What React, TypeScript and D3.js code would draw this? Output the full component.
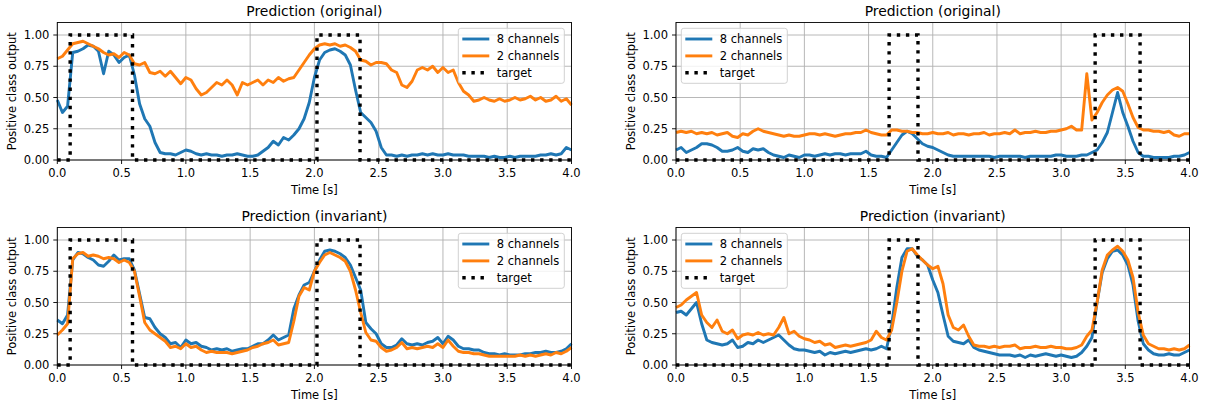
import React from "react";
import * as d3 from "d3";

// sampling interval of the prediction series (seconds); values are in percent
const STEP = 0.04;

// Top-left: Prediction (original)
const p1Blue = [48,38,43,86,87,89,92,91,87,69, 87,84,78,82,84,68,45,33,27,14, 6,5,5,4,6,8,7,5,4,5, 4,4,3,4,4,5,4,3,3,4, 7,10,15,12,18,16,20,25,33,46, 66,80,86,88,89,87,84,76,56,38, 34,30,23,10,4,4,3,4,3,4, 4,5,4,5,4,4,5,4,4,4, 3,3,3,3,2,3,2,2,3,2, 3,3,3,3,4,4,5,4,5,10, 8];
const p1Orange = [81,83,88,93,94,95,93,91,89,86, 84,85,82,86,84,77,76,78,70,69, 71,67,71,66,61,66,64,57,52,54, 58,62,60,64,60,52,62,60,62,64, 60,64,62,66,63,65,66,72,78,84, 89,92,93,92,93,91,92,90,87,80, 79,76,78,78,77,72,70,60,58,63, 72,74,72,75,70,74,70,72,62,55, 52,47,48,50,48,47,49,47,48,50, 48,49,51,48,50,47,48,51,47,49, 44];

// Top-right: Prediction (original)
const p2Blue = [8,10,6,8,10,13,13,12,10,7, 7,8,10,7,6,9,8,9,6,4, 3,2,4,3,2,4,4,3,4,5, 4,5,5,4,5,5,5,7,4,3, 3,2,8,14,20,23,21,17,13,11, 10,8,6,4,3,3,3,3,3,3, 3,3,2,3,3,3,3,3,2,3, 3,3,3,3,4,4,3,3,3,4, 4,6,8,14,22,38,54,38,27,15, 6,3,3,2,2,2,2,3,3,4, 6];
const p2Orange = [22,23,22,23,21,22,21,22,20,21, 22,19,18,21,20,23,25,23,22,21, 20,19,20,19,19,20,21,21,20,21, 20,19,20,21,21,22,22,24,22,21, 20,20,24,24,23,23,22,22,21,21, 22,21,21,22,20,21,21,20,21,21, 22,20,21,21,22,21,24,21,22,22, 23,22,22,23,23,24,25,27,24,24, 69,32,38,46,52,56,58,55,45,34, 26,24,24,23,23,22,23,20,19,21, 21];

// Bottom-left: Prediction (invariant)
const p3Blue = [36,33,40,84,90,89,86,84,80,79, 83,88,84,85,85,76,57,38,37,30, 25,22,17,18,14,20,17,18,15,14, 12,13,12,13,11,12,13,13,15,17, 17,20,24,20,22,24,45,56,64,66, 75,84,91,92,91,89,86,80,70,60, 34,29,25,17,14,14,16,21,17,16, 17,16,18,19,22,17,23,20,15,13, 13,12,12,10,9,9,8,9,8,8, 8,9,9,10,10,11,10,10,11,13, 17];
const p3Orange = [24,28,33,85,89,90,87,88,87,85, 86,85,82,84,82,75,55,34,28,25, 22,19,14,15,13,17,14,15,12,10, 11,10,10,10,9,10,11,12,14,15, 17,18,20,16,17,18,35,55,62,60, 75,82,88,90,88,86,83,75,60,42, 26,20,19,14,11,12,14,18,13,14, 13,14,15,14,17,14,20,15,11,10, 10,9,9,8,7,7,7,7,7,7, 8,7,8,7,8,9,8,10,9,11, 14];

// Bottom-right: Prediction (invariant)
const p4Blue = [42,43,40,45,50,33,20,18,17,16, 17,20,14,15,18,17,20,18,20,22, 24,20,16,13,12,12,11,10,11,8, 10,9,10,11,10,11,12,13,12,13, 15,13,32,62,86,93,93,87,84,80, 68,58,40,23,19,18,17,20,14,12, 11,10,9,8,8,8,7,8,6,8, 7,8,9,8,7,8,7,6,7,10, 15,22,50,74,85,91,92,88,80,64, 35,17,12,9,8,8,9,8,8,10, 12];
const p4Orange = [46,48,52,55,58,40,34,30,36,27, 25,28,21,24,25,24,26,24,25,24, 30,38,25,27,23,21,20,18,19,16, 17,14,15,16,15,16,17,18,20,27, 22,20,28,50,75,91,93,88,84,80, 77,79,65,40,30,28,32,23,16,15, 15,14,15,14,15,15,16,13,14,14, 15,14,14,15,14,14,13,13,14,16, 23,28,50,76,88,92,95,91,84,70, 42,24,17,15,13,13,12,13,12,13, 16];

// target windows (seconds)
const targetLeftOn = [0.1, 2.02];
const targetLeftOff = [0.585, 2.355];
const targetRightOn = [1.66, 3.265];
const targetRightOff = [1.885, 3.615];

const xTicks = [0, 0.5, 1, 1.5, 2, 2.5, 3, 3.5, 4];
const yTicks = [0, 0.25, 0.5, 0.75, 1];
const seriesNames = ["8 channels", "2 channels", "target"];
const titles = ["Prediction (original)", "Prediction (invariant)"];

const BLUE = "#1f77b4";
const ORANGE = "#ff7f0e";
const FONT = "'DejaVu Sans', sans-serif";
const FS = 11.5;

function targetPoints(on: number[], off: number[]): [number, number][] {
  const pts: [number, number][] = [[0, 0]];
  on.forEach((s, k) => {
    pts.push([s, 0], [s, 1], [off[k], 1], [off[k], 0]);
  });
  pts.push([4, 0]);
  return pts;
}

type PanelProps = {
  left: number; right: number; top: number; bottom: number;
  title: string; blue: number[]; orange: number[];
  on: number[]; off: number[]; legendRight: boolean;
};

function Panel({ left, right, top, bottom, title, blue, orange, on, off, legendRight }: PanelProps) {
  const x = d3.scaleLinear().domain([0, 4]).range([left, right]);
  const y = d3.scaleLinear().domain([0, 1.1]).range([bottom, top]);
  const line = d3.line<number>().x((_, i) => x(i * STEP)).y((d) => y(d / 100));
  const tline = d3.line<[number, number]>().x((d) => x(d[0])).y((d) => y(d[1]));
  const tpts = targetPoints(on, off);

  const lw = 106, lh = 55;
  const lx = legendRight ? right - 7.2 - lw : left + 5.3;
  const ly = top + 5.8;
  const rows = [10.7, 27.6, 44.4];
  const grid = "#b0b0b0";

  return (
    <g>
      {/* grid */}
      {xTicks.map((t) => (
        <line key={"gx" + t} x1={x(t)} x2={x(t)} y1={top} y2={bottom} stroke={grid} strokeWidth={0.9} />
      ))}
      {yTicks.map((t) => (
        <line key={"gy" + t} x1={left} x2={right} y1={y(t)} y2={y(t)} stroke={grid} strokeWidth={0.9} />
      ))}
      {/* series */}
      <path d={line(blue) || ""} fill="none" stroke={BLUE} strokeWidth={2.9} strokeLinejoin="round" />
      <path d={line(orange) || ""} fill="none" stroke={ORANGE} strokeWidth={2.9} strokeLinejoin="round" />
      <path d={tline(tpts) || ""} fill="none" stroke="#000" strokeWidth={3.4} strokeDasharray="3.4,5.7" />
      {/* spines */}
      <rect x={left} y={top} width={right - left} height={bottom - top} fill="none" stroke="#000" strokeWidth={0.9} />
      {/* x ticks */}
      {xTicks.map((t) => (
        <g key={"xt" + t}>
          <line x1={x(t)} x2={x(t)} y1={bottom} y2={bottom + 4} stroke="#000" strokeWidth={0.9} />
          <text x={x(t)} y={bottom + 17} textAnchor="middle" fontSize={FS} fontFamily={FONT}>{t.toFixed(1)}</text>
        </g>
      ))}
      {yTicks.map((t) => (
        <g key={"yt" + t}>
          <line x1={left - 4} x2={left} y1={y(t)} y2={y(t)} stroke="#000" strokeWidth={0.9} />
          <text x={left - 8} y={y(t)} dy="0.36em" textAnchor="end" fontSize={FS} fontFamily={FONT}>{t.toFixed(2)}</text>
        </g>
      ))}
      <text x={(left + right) / 2} y={bottom + 33.5} textAnchor="middle" fontSize={FS} fontFamily={FONT}>Time [s]</text>
      <text transform={`translate(${left - 41},${(top + bottom) / 2}) rotate(-90)`} textAnchor="middle" fontSize={FS} fontFamily={FONT}>Positive class output</text>
      <text x={(left + right) / 2} y={top - 6.5} textAnchor="middle" fontSize={13.9} fontFamily={FONT}>{title}</text>
      {/* legend */}
      <rect x={lx} y={ly} width={lw} height={lh} rx={2.5} fill="#fff" fillOpacity={0.8} stroke="#cccccc" strokeWidth={0.9} />
      {seriesNames.map((name, k) => (
        <g key={name}>
          <line x1={lx + 4} x2={lx + 31} y1={ly + rows[k]} y2={ly + rows[k]}
            stroke={k === 0 ? BLUE : k === 1 ? ORANGE : "#000"}
            strokeWidth={k === 2 ? 3.4 : 2.9}
            strokeDasharray={k === 2 ? "3.4,5.7" : undefined} />
          <text x={lx + 38.5} y={ly + rows[k]} dy="0.36em" fontSize={FS} fontFamily={FONT}>{name}</text>
        </g>
      ))}
    </g>
  );
}

export default function App() {
  const L = [57.3, 571.5];
  const R = [676, 1189.5];
  const T = [22.5, 160];
  const B = [227.5, 365];
  return (
    <svg width={1205} height={407} style={{ position: "absolute", left: 0, top: 0, background: "#fff" }}>
      <rect width={1205} height={407} fill="#fff" />
      <Panel left={L[0]} right={L[1]} top={T[0]} bottom={T[1]} title={titles[0]} blue={p1Blue} orange={p1Orange} on={targetLeftOn} off={targetLeftOff} legendRight={true} />
      <Panel left={R[0]} right={R[1]} top={T[0]} bottom={T[1]} title={titles[0]} blue={p2Blue} orange={p2Orange} on={targetRightOn} off={targetRightOff} legendRight={false} />
      <Panel left={L[0]} right={L[1]} top={B[0]} bottom={B[1]} title={titles[1]} blue={p3Blue} orange={p3Orange} on={targetLeftOn} off={targetLeftOff} legendRight={true} />
      <Panel left={R[0]} right={R[1]} top={B[0]} bottom={B[1]} title={titles[1]} blue={p4Blue} orange={p4Orange} on={targetRightOn} off={targetRightOff} legendRight={false} />
    </svg>
  );
}
